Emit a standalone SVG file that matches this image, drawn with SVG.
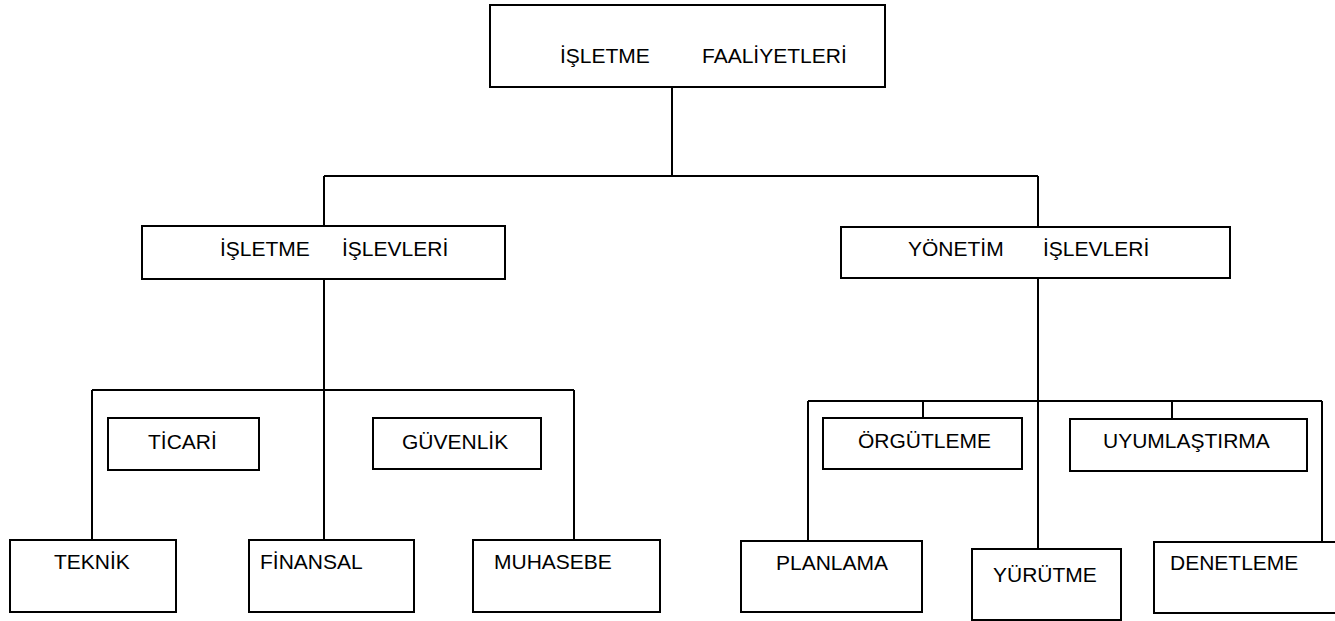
<svg xmlns="http://www.w3.org/2000/svg" width="1335" height="621" viewBox="0 0 1335 621">
  <style>
    .box { fill: #ffffff; stroke: #000000; stroke-width: 2; }
    .wire { fill: none; stroke: #000000; stroke-width: 2; }
    .lbl { font-family: "Liberation Sans", Arial, sans-serif; font-size: 21px; fill: #000000; }
  </style>
  <rect width="1335" height="621" fill="#ffffff"/>

  <!-- connectors -->
  <g id="connectors" class="wire">
    <!-- top level to the two function groups -->
    <path d="M672 87 V176 M324 176 H1038 M324 176 V226 M1038 176 V227"/>
    <!-- business functions branch -->
    <path d="M324 279 V540 M92 390 H574 M92 390 V540 M574 390 V540"/>
    <!-- management functions branch -->
    <path d="M1038 278 V549 M808 401 H1322 M808 401 V541 M1322 401 V542 M923 401 V418 M1172 401 V419"/>
  </g>

  <g id="isletme-faaliyetleri">
    <rect class="box" x="490" y="5" width="395" height="82"/>
    <text class="lbl" x="560" y="63">İŞLETME</text>
    <text class="lbl" x="702" y="63">FAALİYETLERİ</text>
  </g>

  <g id="isletme-islevleri">
    <rect class="box" x="142" y="226" width="363" height="53"/>
    <text class="lbl" x="220" y="256">İŞLETME</text>
    <text class="lbl" x="342" y="256">İŞLEVLERİ</text>
  </g>

  <g id="yonetim-islevleri">
    <rect class="box" x="841" y="227" width="389" height="51"/>
    <text class="lbl" x="908" y="256">YÖNETİM</text>
    <text class="lbl" x="1043" y="256">İŞLEVLERİ</text>
  </g>

  <g id="ticari">
    <rect class="box" x="108" y="418" width="151" height="52"/>
    <text class="lbl" x="148" y="449">TİCARİ</text>
  </g>

  <g id="guvenlik">
    <rect class="box" x="373" y="418" width="168" height="51"/>
    <text class="lbl" x="402" y="449">GÜVENLİK</text>
  </g>

  <g id="teknik">
    <rect class="box" x="10" y="540" width="166" height="72"/>
    <text class="lbl" x="54" y="569">TEKNİK</text>
  </g>

  <g id="finansal">
    <rect class="box" x="249" y="540" width="165" height="72"/>
    <text class="lbl" x="260" y="569">FİNANSAL</text>
  </g>

  <g id="muhasebe">
    <rect class="box" x="473" y="540" width="187" height="72"/>
    <text class="lbl" x="494" y="569">MUHASEBE</text>
  </g>

  <g id="orgutleme">
    <rect class="box" x="823" y="418" width="199" height="51"/>
    <text class="lbl" x="858" y="448">ÖRGÜTLEME</text>
  </g>

  <g id="uyumlastirma">
    <rect class="box" x="1070" y="419" width="237" height="52"/>
    <text class="lbl" x="1103" y="448">UYUMLAŞTIRMA</text>
  </g>

  <g id="planlama">
    <rect class="box" x="741" y="541" width="181" height="71"/>
    <text class="lbl" x="776" y="570">PLANLAMA</text>
  </g>

  <g id="yurutme">
    <rect class="box" x="972" y="549" width="149" height="71"/>
    <text class="lbl" x="993" y="582">YÜRÜTME</text>
  </g>

  <g id="denetleme">
    <rect class="box" x="1154" y="542" width="185" height="71"/>
    <text class="lbl" x="1170" y="570">DENETLEME</text>
  </g>
</svg>
